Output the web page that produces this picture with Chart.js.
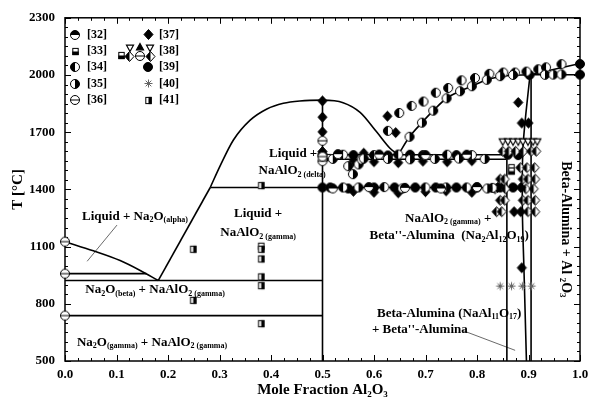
<!DOCTYPE html>
<html>
<head>
<meta charset="utf-8">
<script src="https://cdn.jsdelivr.net/npm/chart.js@4"></script>
<style>
  html, body { margin: 0; padding: 0; background: #fff; }
</style>
</head>
<body>
<canvas id="chart" width="595" height="404"></canvas>
<script>
// ---- phase boundaries, [mole fraction Al2O3, T in °C] ----
const liqNa2O = [[0, 1126], [0.055, 1078], [0.107, 1027], [0.146, 975], [0.181, 922]];
const lineAlphaBeta = [[0, 958], [0.158, 958]];
const lineEutectic = [[0, 922], [0.5, 922]];
const lineBetaGamma = [[0, 738], [0.5, 738]];
const liqRise = [[0.181, 922], [0.282, 1410]];
const linePeritectic = [[0.282, 1410], [0.5, 1410]];
const dome = [[0.282, 1410], [0.301, 1522], [0.327, 1659], [0.359, 1762], [0.392, 1822], [0.424, 1852],
  [0.456, 1864], [0.5, 1868], [0.54, 1855], [0.573, 1804], [0.605, 1702], [0.631, 1616], [0.647, 1582]];
const lineNaAlO2 = [[0.5, 500], [0.5, 1868]];
const line1410 = [[0.5, 1410], [0.858, 1410]];
const line1582 = [[0.5, 1582], [0.858, 1582]];
const line1558 = [[0.5, 1558], [0.858, 1558]];
const liqRight = [[0.647, 1582], [0.669, 1676], [0.693, 1750], [0.715, 1813], [0.741, 1878], [0.767, 1915],
  [0.79, 1941], [0.819, 1975], [0.858, 1996], [0.903, 2001]];
const line2000 = [[0.903, 2001], [1, 2001]];
const liqAl2O3 = [[0.903, 2001], [1, 2060]];
const lineBeta2 = [[0.858, 500], [0.858, 1582]];
const lineBeta = [[0.905, 500], [0.905, 2001]];
const solvus = [[0.903, 2001], [0.895, 1800], [0.89, 1650], [0.888, 1500], [0.888, 1300], [0.889, 1172],
  [0.891, 1000], [0.893, 800], [0.896, 500]];
const leaderA = [[0.101, 1213], [0.043, 1023]];
const leaderB = [[0.773, 659], [0.874, 556]];

// ---- measured points, one list per reference ----
const pts32 = [[0.52, 1405], [0.59, 1412], [0.66, 1408], [0.73, 1405], [0.8, 1412], [0.53, 1585], [0.61, 1583],
  [0.7, 1580], [0.78, 1582]];
const pts33 = [[0.381, 1102], [0.51, 1567], [0.867, 1514], [0.867, 1496]];
const pts34 = [[0.627, 1707], [0.649, 1801], [0.673, 1838], [0.696, 1861], [0.72, 1907], [0.744, 1932],
  [0.77, 1972], [0.796, 1984], [0.824, 2006], [0.851, 2013], [0.874, 2013], [0.896, 2018], [0.919, 2030],
  [0.934, 2040], [0.964, 2057], [0.54, 1582], [0.6, 1580], [0.647, 1583], [0.695, 1580], [0.742, 1582],
  [0.79, 1580], [0.54, 1410], [0.62, 1412], [0.7, 1410], [0.78, 1410], [0.83, 1408]];
const pts35 = [[0.669, 1676], [0.693, 1750], [0.715, 1813], [0.741, 1878], [0.767, 1915], [0.79, 1941],
  [0.819, 1975], [0.845, 1994], [0.87, 2000], [0.932, 2001], [0.948, 2002], [0.964, 2003], [0.55, 1522],
  [0.559, 1480], [0.57, 1531], [0.576, 1556], [0.52, 1560], [0.58, 1562], [0.627, 1560], [0.67, 1558],
  [0.718, 1560], [0.765, 1562], [0.815, 1560], [0.57, 1410], [0.655, 1405], [0.74, 1410], [0.82, 1405]];
const pts36 = [[0, 1126], [0, 958], [0, 738], [0.5, 1655], [0.5, 1548], [0.5, 1572]];
const pts37 = [[0.5, 1864], [0.5, 1779], [0.5, 1702], [0.5, 1599], [0.626, 1784], [0.642, 1698], [0.88, 1856],
  [0.887, 1748], [0.9, 1748], [0.887, 989], [0.56, 1548], [0.6, 1545], [0.647, 1540], [0.695, 1548],
  [0.742, 1545], [0.79, 1550], [0.56, 1390], [0.6, 1385], [0.647, 1382], [0.7, 1388], [0.74, 1392],
  [0.79, 1385], [0.58, 1590], [0.885, 1283], [0.872, 1283], [0.84, 1410], [0.885, 1410]];
const pts38 = [[0.884, 1514], [0.897, 1514], [0.912, 1514], [0.845, 1454], [0.854, 1454], [0.889, 1454],
  [0.899, 1454], [0.913, 1454], [0.835, 1403], [0.855, 1403], [0.895, 1403], [0.91, 1403], [0.845, 1343],
  [0.854, 1343], [0.889, 1343], [0.899, 1343], [0.913, 1343], [0.838, 1283], [0.848, 1283], [0.899, 1283],
  [0.913, 1283], [0.85, 1600], [0.862, 1600], [0.875, 1600], [0.89, 1600], [0.905, 1600], [0.915, 1600]];
const pts38tri = [[0.85, 1650], [0.86, 1650], [0.87, 1650], [0.88, 1650], [0.889, 1650], [0.899, 1650],
  [0.909, 1650], [0.917, 1650]];
const pts39 = [[0.5, 1410], [0.5, 1582], [0.515, 1410], [0.56, 1580], [0.627, 1578], [0.67, 1582], [0.76, 1580],
  [0.64, 1410], [0.68, 1410], [0.72, 1410], [0.76, 1410], [0.8, 1410], [0.845, 1410], [0.87, 1410],
  [0.86, 1582], [0.88, 1580], [0.55, 1405], [0.6, 1410], [1, 2058], [1, 2002], [0.902, 2000]];
const pts40 = [[0.845, 893], [0.867, 893], [0.888, 893], [0.906, 893]];
const pts41 = [[0.249, 1086], [0.249, 818], [0.381, 1420], [0.381, 1086], [0.381, 1035], [0.381, 941],
  [0.381, 895], [0.381, 696]];

const refsLeft = ["[32]", "[33]", "[34]", "[35]", "[36]"];
const refsRight = ["[37]", "[38]", "[39]", "[40]", "[41]"];
const xTicks = [0, 0.1, 0.2, 0.3, 0.4, 0.5, 0.6, 0.7, 0.8, 0.9, 1.0];
const yTicks = [500, 800, 1100, 1400, 1700, 2000, 2300];

// region labels: text with _{sub}, anchored in data units
const regionLabels = [
  { t: "Liquid + Na_{2}O_{(alpha)}", x: 0.136, y: 1259 },
  { t: "Liquid +", x: 0.443, y: 1590 },
  { t: "NaAlO_{2 (delta)}", x: 0.441, y: 1497 },
  { t: "Liquid +", x: 0.375, y: 1274 },
  { t: "NaAlO_{2 (gamma)}", x: 0.375, y: 1172 },
  { t: "Na_{2}O_{(beta)} + NaAlO_{2 (gamma)}", x: 0.175, y: 874 },
  { t: "Na_{2}O_{(gamma)} + NaAlO_{2 (gamma)}", x: 0.169, y: 597 },
  { t: "NaAlO_{2 (gamma)} +", x: 0.744, y: 1249 },
  { t: "Beta''-Alumina  (Na_{2}Al_{12}O_{19})", x: 0.746, y: 1156 },
  { t: "Beta-Alumina (NaAl_{11}O_{17})", x: 0.746, y: 751 },
  { t: "+ Beta''-Alumina", x: 0.689, y: 664 },
];

const SERIF = '"Liberation Serif", "Times New Roman", serif';

function toXY(list) {
  return list.map(([x, y]) => ({ x, y }));
}

function marker(kind, size) {
  const c = document.createElement("canvas");
  const s = size + 3;
  c.width = s;
  c.height = s;
  const g = c.getContext("2d");
  const m = s / 2;
  const r = size / 2;
  g.lineWidth = 1;
  g.strokeStyle = "#000";
  g.fillStyle = "#000";
  const circle = () => {
    g.beginPath();
    g.arc(m, m, r, 0, Math.PI * 2);
  };
  const half = (a0, a1) => {
    g.beginPath();
    g.arc(m, m, r, a0, a1);
    g.closePath();
    g.fill();
  };
  if (kind === "star") {
    g.strokeStyle = "#666";
    for (let k = 0; k < 4; k++) {
      const a = (k * Math.PI) / 4;
      g.beginPath();
      g.moveTo(m - Math.cos(a) * r, m - Math.sin(a) * r);
      g.lineTo(m + Math.cos(a) * r, m + Math.sin(a) * r);
      g.stroke();
    }
  } else if (kind.startsWith("c")) {
    g.fillStyle = "#fff";
    circle();
    g.fill();
    g.fillStyle = "#000";
    if (kind === "cTop") half(Math.PI, Math.PI * 2);
    if (kind === "cLeft") half(Math.PI / 2, Math.PI * 1.5);
    if (kind === "cRight") half(-Math.PI / 2, Math.PI / 2);
    if (kind === "cDisc") {
      circle();
      g.fill();
    }
    if (kind === "cTheta") {
      g.beginPath();
      g.moveTo(m - r, m);
      g.lineTo(m + r, m);
      g.stroke();
    }
    circle();
    g.stroke();
  } else if (kind.startsWith("d")) {
    const w = r * 0.9;
    const path = () => {
      g.beginPath();
      g.moveTo(m, m - r);
      g.lineTo(m + w, m);
      g.lineTo(m, m + r);
      g.lineTo(m - w, m);
      g.closePath();
    };
    g.fillStyle = kind === "dFull" ? "#000" : "#fff";
    path();
    g.fill();
    if (kind === "dLeft") {
      g.fillStyle = "#000";
      g.beginPath();
      g.moveTo(m, m - r);
      g.lineTo(m - w, m);
      g.lineTo(m, m + r);
      g.closePath();
      g.fill();
    }
    path();
    g.stroke();
  } else if (kind.startsWith("s")) {
    const h = r * 0.8;
    g.fillStyle = "#fff";
    g.fillRect(m - h, m - r * 0.9, h * 2, r * 1.8);
    g.fillStyle = "#000";
    if (kind === "sRight") g.fillRect(m, m - r * 0.9, h, r * 1.8);
    if (kind === "sBottom") g.fillRect(m - h, m, h * 2, r * 0.9);
    g.strokeRect(m - h + 0.5, m - r * 0.9 + 0.5, h * 2 - 1, r * 1.8 - 1);
  } else if (kind === "triDown" || kind === "triUp") {
    const up = kind === "triUp";
    g.beginPath();
    if (up) {
      g.moveTo(m, m - r);
      g.lineTo(m + r, m + r * 0.8);
      g.lineTo(m - r, m + r * 0.8);
    } else {
      g.moveTo(m - r, m - r * 0.8);
      g.lineTo(m + r, m - r * 0.8);
      g.lineTo(m, m + r);
    }
    g.closePath();
    g.fillStyle = up ? "#000" : "#fff";
    g.fill();
    g.lineWidth = 1.2;
    g.stroke();
  }
  return c;
}

const mk = {
  p32: marker("cTop", 9),
  p33: marker("sBottom", 8),
  p34: marker("cLeft", 9),
  p35: marker("cRight", 9),
  p36: marker("cTheta", 9),
  p37: marker("dFull", 10),
  p38: marker("dLeft", 10),
  p38tri: marker("triDown", 7),
  p38up: marker("triUp", 7),
  p39: marker("cDisc", 9),
  p40: marker("star", 8),
  p41: marker("sRight", 8),
};

function boundary(list, opts = {}) {
  return {
    data: toXY(list),
    showLine: true,
    pointRadius: 0,
    borderColor: opts.color || "#000",
    borderWidth: opts.width || 1.6,
    tension: opts.tension || 0,
    cubicInterpolationMode: opts.smooth ? "monotone" : "default",
    fill: false,
    order: 2,
    clip: false,
  };
}

function points(list, style) {
  return {
    data: toXY(list),
    showLine: false,
    pointStyle: style,
    pointRadius: 5,
    order: 1,
    clip: false,
  };
}

function drawRich(ctx, text, x, y, size, align = "center") {
  const parts = [];
  const re = /_\{([^}]*)\}/g;
  let last = 0;
  let m;
  while ((m = re.exec(text))) {
    if (m.index > last) parts.push({ t: text.slice(last, m.index), sub: false });
    parts.push({ t: m[1], sub: true });
    last = re.lastIndex;
  }
  if (last < text.length) parts.push({ t: text.slice(last), sub: false });
  const big = `bold ${size}px ${SERIF}`;
  const small = `bold ${Math.round(size * 0.62)}px ${SERIF}`;
  let w = 0;
  parts.forEach((p) => {
    ctx.font = p.sub ? small : big;
    p.w = ctx.measureText(p.t).width;
    w += p.w;
  });
  let cx = align === "center" ? x - w / 2 : align === "right" ? x - w : x;
  ctx.textAlign = "left";
  ctx.textBaseline = "middle";
  parts.forEach((p) => {
    ctx.font = p.sub ? small : big;
    ctx.fillText(p.t, cx, y + (p.sub ? size * 0.3 : 0));
    cx += p.w;
  });
}

const decor = {
  id: "decor",
  beforeDatasetsDraw(chart) {
    const { ctx, chartArea: a, scales } = chart;
    const { x, y } = scales;
    ctx.save();
    ctx.strokeStyle = "#000";
    ctx.lineWidth = 1.5;
    ctx.strokeRect(a.left, a.top, a.right - a.left, a.bottom - a.top);
    ctx.lineWidth = 1;
    const seg = (x0, y0, x1, y1) => {
      ctx.beginPath();
      ctx.moveTo(x0, y0);
      ctx.lineTo(x1, y1);
      ctx.stroke();
    };
    for (let i = 0; i <= 40; i++) {
      const px = Math.round(x.getPixelForValue(i * 0.025)) + 0.5;
      const L = i % 4 === 0 ? 6 : 3;
      seg(px, a.bottom, px, a.bottom - L);
      seg(px, a.top, px, a.top + L);
    }
    for (let i = 0; i <= 36; i++) {
      const py = Math.round(y.getPixelForValue(500 + i * 50)) + 0.5;
      const L = i % 6 === 0 ? 6 : 3;
      seg(a.left, py, a.left + L, py);
      seg(a.right, py, a.right - L, py);
    }
    ctx.restore();
  },
  afterDatasetsDraw(chart) {
    const { ctx, chartArea: a, scales } = chart;
    const { x, y } = scales;
    ctx.save();
    ctx.fillStyle = "#000";
    regionLabels.forEach((l) => drawRich(ctx, l.t, x.getPixelForValue(l.x), y.getPixelForValue(l.y), 13));

    // vertical label on the right
    ctx.save();
    ctx.translate(x.getPixelForValue(0.973), y.getPixelForValue(1190));
    ctx.rotate(Math.PI / 2);
    drawRich(ctx, "Beta-Alumina + Al _{2}O_{3}", 0, 0, 14);
    ctx.restore();

    // legend, two columns in the upper left corner
    ctx.font = `bold 12px ${SERIF}`;
    ctx.textBaseline = "middle";
    ctx.textAlign = "left";
    const glyphsL = [mk.p32, mk.p33, mk.p34, mk.p35, mk.p36];
    const glyphsR = [mk.p37, mk.p38, mk.p39, mk.p40, mk.p41];
    const put = (img, cx, cy) => ctx.drawImage(img, Math.round(cx - img.width / 2), Math.round(cy - img.height / 2));
    refsLeft.forEach((t, i) => {
      const cy = a.top + 17 + i * 16.3;
      put(glyphsL[i], a.left + 10, cy);
      ctx.fillText(t, a.left + 22, cy);
    });
    refsRight.forEach((t, i) => {
      const cy = a.top + 17 + i * 16.3;
      if (i !== 1) put(glyphsR[i], a.left + 83, cy);
      ctx.fillText(t, a.left + 94, cy);
    });
    const c38 = a.top + 33.3;
    put(mk.p33, a.left + 56, c38 + 4);
    put(mk.p38tri, a.left + 65, c38 - 3);
    put(mk.p38up, a.left + 75, c38 - 4);
    put(mk.p38tri, a.left + 85, c38 - 3);
    put(mk.p38, a.left + 64, c38 + 5);
    put(mk.p36, a.left + 75, c38 + 5);
    put(mk.p38, a.left + 85, c38 + 5);

    // axis titles
    drawRich(ctx, "Mole Fraction Al_{2}O_{3}", (a.left + a.right) / 2, 390, 15);
    ctx.save();
    ctx.translate(18, (a.top + a.bottom) / 2);
    ctx.rotate(-Math.PI / 2);
    drawRich(ctx, "T [°C]", 0, 0, 15);
    ctx.restore();
    ctx.restore();
  },
};

new Chart(document.getElementById("chart"), {
  type: "scatter",
  data: {
    datasets: [
      boundary(liqNa2O, { smooth: true }),
      boundary(lineAlphaBeta),
      boundary(lineEutectic),
      boundary(lineBetaGamma),
      boundary(liqRise),
      boundary(linePeritectic),
      boundary(dome, { smooth: true }),
      boundary(lineNaAlO2),
      boundary(line1410),
      boundary(line1582),
      boundary(line1558),
      boundary(liqRight, { smooth: true }),
      boundary(line2000),
      boundary(liqAl2O3),
      boundary(lineBeta2),
      boundary(lineBeta),
      boundary(solvus, { tension: 0.2 }),
      boundary(leaderA, { color: "#444", width: 0.8 }),
      boundary(leaderB, { color: "#444", width: 0.8 }),
      points(pts41, mk.p41),
      points(pts40, mk.p40),
      points(pts36, mk.p36),
      points(pts32, mk.p32),
      points(pts35, mk.p35),
      points(pts34, mk.p34),
      points(pts37, mk.p37),
      points(pts38, mk.p38),
      points(pts38tri, mk.p38tri),
      points(pts39, mk.p39),
      points(pts33, mk.p33),
    ],
  },
  options: {
    responsive: false,
    animation: false,
    devicePixelRatio: 1,
    layout: { padding: { left: 0, right: 15, top: 10, bottom: 0 } },
    plugins: { legend: { display: false }, tooltip: { enabled: false } },
    scales: {
      x: {
        type: "linear",
        min: 0,
        max: 1,
        afterBuildTicks: (s) => { s.ticks = xTicks.map((v) => ({ value: v })); },
        afterFit: (s) => { s.height = 43; },
        ticks: {
          callback: (v) => v.toFixed(1),
          color: "#000",
          padding: 6,
          maxRotation: 0,
          font: { family: SERIF, weight: "bold", size: 13 },
        },
        grid: { display: false, drawTicks: false },
        border: { display: false },
      },
      y: {
        min: 500,
        max: 2300,
        afterBuildTicks: (s) => { s.ticks = yTicks.map((v) => ({ value: v })); },
        afterFit: (s) => { s.width = 65; },
        ticks: {
          callback: (v) => String(v),
          color: "#000",
          padding: 10,
          font: { family: SERIF, weight: "bold", size: 13 },
        },
        grid: { display: false, drawTicks: false },
        border: { display: false },
      },
    },
  },
  plugins: [decor],
});
</script>
</body>
</html>
